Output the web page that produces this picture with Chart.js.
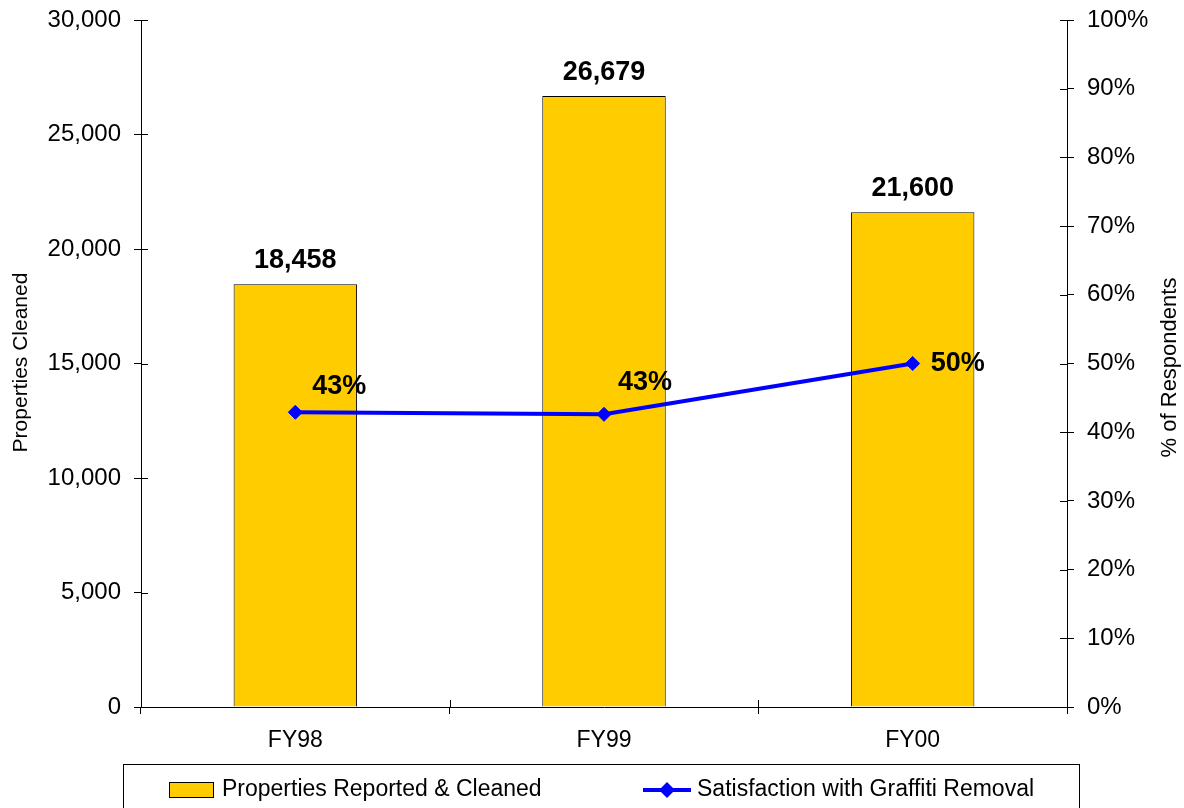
<!DOCTYPE html>
<html>
<head>
<script src="https://cdn.jsdelivr.net/npm/chart.js"></script>
<style>
  body { margin: 0; background: #fff; }
</style>
</head>
<body>
<canvas id="myChart" width="1184" height="808"></canvas>
<script>
  // Chart values
  const years = ['FY98', 'FY99', 'FY00'];
  const cleaned = [18458, 26679, 21600];
  const satisfaction = [42.9, 42.6, 50.0];
  const barLabel = 'Properties Reported & Cleaned';
  const lineLabel = 'Satisfaction with Graffiti Removal';

  const FONT = '"Liberation Sans", Arial, sans-serif';
  Chart.defaults.font.family = FONT;
  Chart.defaults.color = '#000';

  // labels, axis titles, inward tick marks and the boxed legend
  const extras = {
    id: 'extras',
    afterDraw(chart) {
      const ctx = chart.ctx;
      const a = chart.chartArea;
      const y = chart.scales.y, y1 = chart.scales.y1;
      ctx.save();
      ctx.strokeStyle = '#000';
      ctx.lineWidth = 1;
      ctx.beginPath();
      y.ticks.forEach(t => {
        const py = Math.round(y.getPixelForValue(t.value)) + 0.5;
        ctx.moveTo(a.left, py); ctx.lineTo(a.left + 7, py);
      });
      y1.ticks.forEach(t => {
        const py = Math.round(y1.getPixelForValue(t.value)) + 0.5;
        ctx.moveTo(a.right - 7, py); ctx.lineTo(a.right, py);
      });
      for (let i = 0; i <= years.length; i++) {
        const px = Math.round(a.left + i * (a.right - a.left) / years.length) + 0.5;
        ctx.moveTo(px, a.bottom - 7); ctx.lineTo(px, a.bottom);
      }
      ctx.stroke();

      // bar value labels
      ctx.fillStyle = '#000';
      ctx.font = 'bold 27px ' + FONT;
      ctx.textAlign = 'center';
      ctx.textBaseline = 'alphabetic';
      chart.getDatasetMeta(0).data.forEach((bar, i) => {
        ctx.fillText(cleaned[i].toLocaleString('en-US'), bar.x, bar.y - 16);
      });

      // line value labels
      const offs = [[17, -26], [14, -32], [18, 0]];
      ctx.textAlign = 'left';
      ctx.textBaseline = 'middle';
      chart.getDatasetMeta(1).data.forEach((pt, i) => {
        ctx.fillText(Math.round(satisfaction[i]) + '%', pt.x + offs[i][0], pt.y + offs[i][1]);
      });

      // axis titles
      ctx.textAlign = 'center';
      const cy = (a.top + a.bottom) / 2;
      ctx.save();
      ctx.font = '21px ' + FONT;
      ctx.translate(21, cy - 1);
      ctx.rotate(-Math.PI / 2);
      ctx.fillText('Properties Cleaned', 0, 0);
      ctx.restore();
      ctx.save();
      ctx.font = '22px ' + FONT;
      ctx.translate(1170, cy + 4);
      ctx.rotate(-Math.PI / 2);
      ctx.fillText('% of Respondents', 0, 0);
      ctx.restore();

      // legend
      ctx.strokeRect(123.5, 764.5, 956, 80);
      ctx.fillStyle = '#FFCC00';
      ctx.fillRect(169.5, 782.5, 44, 15);
      ctx.strokeRect(169.5, 782.5, 44, 15);
      ctx.fillStyle = '#000';
      ctx.font = '23px ' + FONT;
      ctx.textAlign = 'left';
      ctx.fillText(barLabel, 222, 790);

      ctx.strokeStyle = '#0000FF';
      ctx.lineWidth = 4;
      ctx.beginPath();
      ctx.moveTo(643, 790); ctx.lineTo(691, 790);
      ctx.stroke();
      ctx.fillStyle = '#0000FF';
      ctx.beginPath();
      ctx.moveTo(667 - 8, 790); ctx.lineTo(667, 782); ctx.lineTo(667 + 8, 790); ctx.lineTo(667, 798);
      ctx.closePath();
      ctx.fill();
      ctx.fillStyle = '#000';
      ctx.fillText(lineLabel, 697, 790);
      ctx.restore();
    }
  };

  const fitSide = w => s => { s.width = w; s.paddingTop = 0; s.paddingBottom = 0; };

  const ctx = document.getElementById('myChart').getContext('2d');
  new Chart(ctx, {
    data: {
      labels: years,
      datasets: [
        {
          type: 'bar',
          label: barLabel,
          data: cleaned,
          yAxisID: 'y',
          backgroundColor: '#FFCC00',
          borderColor: '#000',
          borderWidth: 1,
          categoryPercentage: 1,
          barPercentage: 0.4,
          order: 1
        },
        {
          type: 'line',
          label: lineLabel,
          data: satisfaction,
          yAxisID: 'y1',
          borderColor: '#0000FF',
          backgroundColor: '#0000FF',
          borderWidth: 4,
          pointStyle: 'rectRot',
          pointRadius: 7,
          pointBorderWidth: 1,
          tension: 0,
          order: 0
        }
      ]
    },
    options: {
      responsive: false,
      animation: false,
      layout: { padding: { top: 20, left: 0, right: 0, bottom: 0 } },
      plugins: {
        legend: { display: false },
        tooltip: { enabled: false }
      },
      scales: {
        x: {
          offset: true,
          grid: { offset: true, drawOnChartArea: false, color: '#000', tickLength: 7 },
          border: { color: '#000' },
          ticks: { font: { size: 23 }, padding: 13, color: '#000' },
          afterFit: s => { s.height = 101; s.paddingLeft = 0; s.paddingRight = 0; }
        },
        y: {
          position: 'left',
          min: 0, max: 30000,
          grid: { drawOnChartArea: false, color: '#000', tickLength: 7 },
          border: { color: '#000' },
          ticks: {
            stepSize: 5000,
            font: { size: 24 },
            padding: 13,
            color: '#000',
            callback: v => v.toLocaleString('en-US')
          },
          afterFit: fitSide(141)
        },
        y1: {
          position: 'right',
          min: 0, max: 100,
          grid: { drawOnChartArea: false, color: '#000', tickLength: 7 },
          border: { color: '#000' },
          ticks: {
            stepSize: 10,
            font: { size: 24 },
            padding: 13,
            color: '#000',
            callback: v => v + '%'
          },
          afterFit: fitSide(117)
        }
      }
    },
    plugins: [extras]
  });
</script>
</body>
</html>
